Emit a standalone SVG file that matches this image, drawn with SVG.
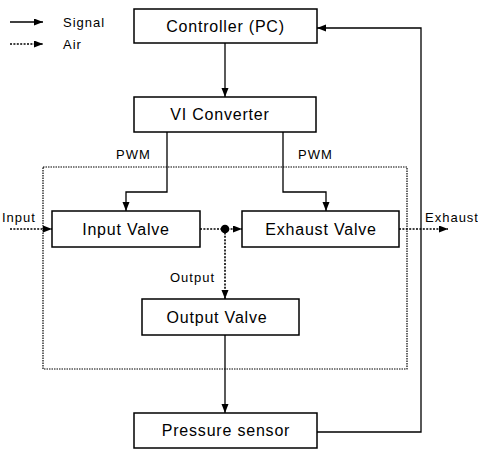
<svg xmlns="http://www.w3.org/2000/svg" width="478" height="450" viewBox="0 0 478 450">
<style>
.box{fill:#fff;stroke:#000;stroke-width:1.5}
.lbl{font-family:"Liberation Sans",Arial,sans-serif;font-size:16px;letter-spacing:0.8px;text-anchor:middle;fill:#000}
.sm{font-family:"Liberation Sans",Arial,sans-serif;font-size:13px;letter-spacing:1px;fill:#000}
.sig{fill:none;stroke:#000;stroke-width:1.3}
.air{fill:none;stroke:#000;stroke-width:1.6;stroke-dasharray:2 1.4}
.frame{fill:none;stroke:#000;stroke-width:1.2;stroke-dasharray:1.5 1}
</style>
<defs>
<marker id="ah" markerUnits="userSpaceOnUse" markerWidth="10" markerHeight="8" refX="9" refY="3.5" orient="auto">
<path d="M0,0 L9,3.5 L0,7 z" fill="#000"/>
</marker>
</defs>
<g id="legend">
<line class="sig" x1="10" y1="22" x2="43" y2="22" marker-end="url(#ah)"/>
<text class="sm" x="63" y="26.5">Signal</text>
<line class="air" x1="10" y1="44" x2="43" y2="44" marker-end="url(#ah)"/>
<text class="sm" x="63" y="48.5">Air</text>
</g>
<rect id="frame" class="frame" x="43" y="167" width="364" height="202"/>
<g id="connectors">
<line class="sig" x1="225" y1="43" x2="225" y2="97" marker-end="url(#ah)"/>
<polyline class="sig" points="167,132 167,192 126,192 126,211" marker-end="url(#ah)"/>
<polyline class="sig" points="283,132 283,192 326,192 326,211" marker-end="url(#ah)"/>
<line class="air" x1="10" y1="229" x2="52" y2="229" marker-end="url(#ah)"/>
<line class="air" x1="200" y1="229" x2="242" y2="229" marker-end="url(#ah)"/>
<circle cx="225" cy="229" r="4.3" fill="#000"/>
<line class="air" x1="225" y1="229" x2="225" y2="299" marker-end="url(#ah)"/>
<line class="air" x1="399" y1="229" x2="448" y2="229" marker-end="url(#ah)"/>
<line class="sig" x1="225" y1="335" x2="225" y2="413" marker-end="url(#ah)"/>
<polyline class="sig" points="317,432 421,432 421,28 317,28" marker-end="url(#ah)"/>
<text class="sm" x="116" y="159">PWM</text>
<text class="sm" x="298" y="159">PWM</text>
<text class="sm" x="2" y="221.5">Input</text>
<text class="sm" x="425" y="221.5">Exhaust</text>
<text class="sm" x="170" y="282">Output</text>
</g>
<g id="controller">
<rect class="box" x="134" y="9" width="183" height="34"/>
<text class="lbl" x="225.5" y="31.5">Controller (PC)</text>
</g>
<g id="vi-converter">
<rect class="box" x="134" y="97" width="182" height="35"/>
<text class="lbl" x="220" y="120">VI Converter</text>
</g>
<g id="input-valve">
<rect class="box" x="52" y="211" width="148" height="36"/>
<text class="lbl" x="126" y="234.5">Input Valve</text>
</g>
<g id="exhaust-valve">
<rect class="box" x="242" y="211" width="157" height="36"/>
<text class="lbl" x="321" y="234.5">Exhaust Valve</text>
</g>
<g id="output-valve">
<rect class="box" x="142" y="299" width="157" height="36"/>
<text class="lbl" x="217" y="322.5">Output Valve</text>
</g>
<g id="pressure-sensor">
<rect class="box" x="134" y="413" width="183" height="35"/>
<text class="lbl" x="226" y="436">Pressure sensor</text>
</g>
</svg>
